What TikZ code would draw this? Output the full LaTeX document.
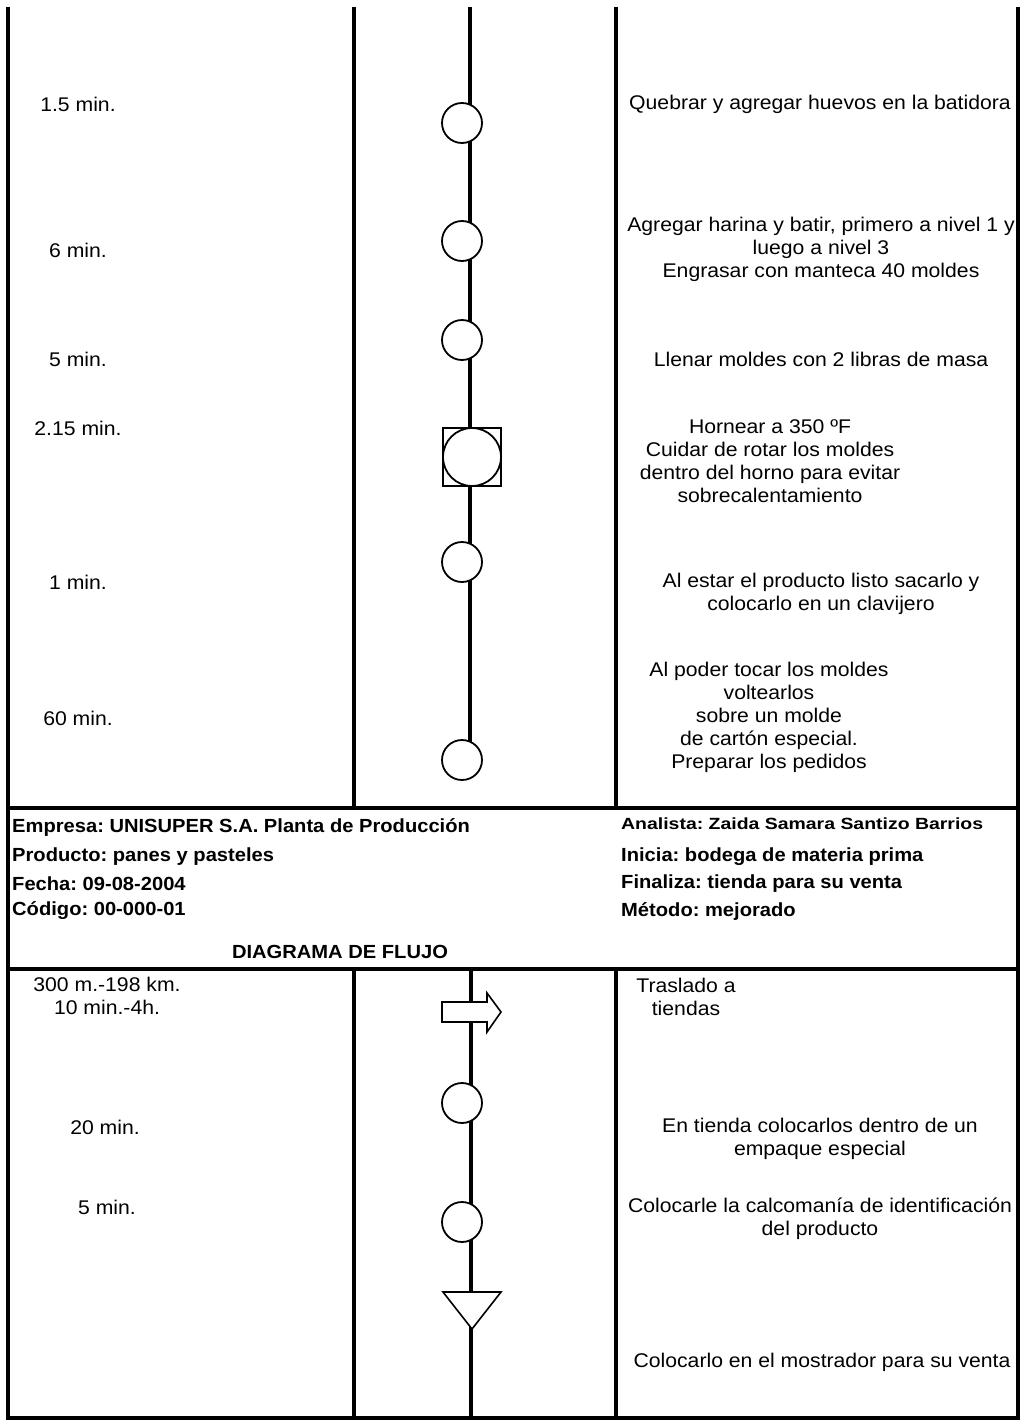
\documentclass[tikz,border=0pt]{standalone}
\usepackage{fontspec}
\setmainfont{Liberation Sans}
\frenchspacing
\newcommand\sx[1]{\scalebox{1.07}[1]{#1}}
\newcommand\bx[1]{\scalebox{1.06}[1]{\bfseries #1}}
\newcommand\ax[1]{\scalebox{1.20}[1]{\bfseries #1}}
\begin{document}
\begin{tikzpicture}[x=1pt,y=-1pt,
  frame/.style={line width=3.6pt},
  flow/.style={line width=3.6pt},
  op/.style={circle,draw,line width=1.8pt,fill=white,minimum size=40pt,inner sep=0pt},
  txt/.style={font=\fontsize{19.8}{23}\selectfont,align=center,inner sep=0pt,anchor=center},
  head/.style={font=\fontsize{19}{22}\selectfont,inner sep=0pt,anchor=west},
  small/.style={font=\fontsize{16.2}{20}\selectfont,inner sep=0pt,anchor=west}]
\useasboundingbox (0,0) rectangle (1024,1426);

% ---------- table frame ----------
\draw[frame] (8,7) -- (8,1418) -- (1018,1418) -- (1018,7);
\draw[frame] (6,808) -- (1020,808);
\draw[frame] (6,969) -- (1020,969);
\foreach \cx in {354,616}{
  \draw[frame] (\cx,7) -- (\cx,808);
  \draw[frame] (\cx,969) -- (\cx,1418);
}

% ---------- upper process line ----------
\coordinate (utop) at (470,7);
\coordinate (uend) at (470,760);
\draw[flow] (utop) -- (uend);
\node[op] (c1) at (462,123) {};
\node[op] (c2) at (462,241) {};
\node[op] (c3) at (462,340) {};
\node[draw,line width=1.4pt,fill=white,minimum size=58pt,inner sep=0pt] (insp) at (472,457) {};
\node[circle,draw,line width=1.8pt,minimum size=58pt,inner sep=0pt] (oper) at (472,457) {};
\node[op] (c5) at (462,562) {};
\node[op] (c6) at (462,760) {};

% ---------- lower process line ----------
\coordinate (ltop) at (471,969);
\coordinate (lend) at (471,1418);
\draw[flow] (ltop) -- (lend);
\draw[line width=1.6pt,fill=white] (442,1002) -- (487,1002) -- (487,993) -- (501,1012)
  -- (487,1032) -- (487,1022) -- (442,1022) -- cycle;
\node[op] (c7) at (462,1103) {};
\node[op] (c8) at (462,1222) {};
\draw[line width=1.6pt,fill=white] (443,1292) -- (501,1292) -- (472,1329) -- cycle;

% ---------- times ----------
\node[txt] (t1) at (78,104) {\sx{1.5 min.}};
\node[txt] (t2) at (78,250) {\sx{6 min.}};
\node[txt] (t3) at (78,359) {\sx{5 min.}};
\node[txt] (t4) at (78,428) {\sx{2.15 min.}};
\node[txt] (t5) at (78,582) {\sx{1 min.}};
\node[txt] (t6) at (78,718) {\sx{60 min.}};
\node[txt] (t7) at (107,996) {\sx{300 m.-198 km.}\\\sx{10 min.-4h.}};
\node[txt] (t8) at (105,1127) {\sx{20 min.}};
\node[txt] (t9) at (107,1207) {\sx{5 min.}};

% ---------- descriptions ----------
\node[txt] (d1) at (820,104) {\sx{Quebrar y agregar huevos en la batidora}};
\node[txt] (d2) at (821,249) {\sx{Agregar harina y batir, primero a nivel 1 y}\\\sx{luego a nivel 3}\\\sx{Engrasar con manteca 40 moldes}};
\node[txt] (d3) at (821,359) {\sx{Llenar moldes con 2 libras de masa}};
\node[txt] (d4) at (770,461) {\sx{Hornear a 350 ºF}\\\sx{Cuidar de rotar los moldes}\\\sx{dentro del horno para evitar}\\\sx{sobrecalentamiento}};
\node[txt] (d5) at (821,594) {\sx{Al estar el producto listo sacarlo y}\\\sx{colocarlo en un clavijero}};
\node[txt] (d6) at (769,717) {\sx{Al poder tocar los moldes}\\\sx{voltearlos}\\\sx{sobre un molde}\\\sx{de cartón especial.}\\\sx{Preparar los pedidos}};
\node[txt] (d7) at (686,997) {\sx{Traslado a}\\\sx{tiendas}};
\node[txt] (d8) at (820,1139) {\sx{En tienda colocarlos dentro de un}\\\sx{empaque especial}};
\node[txt] (d9) at (820,1219) {\sx{Colocarle la calcomanía de identificación}\\\sx{del producto}};
\node[txt] (d10) at (822,1362) {\sx{Colocarlo en el mostrador para su venta}};

% ---------- header ----------
\node[head] (h1) at (12,827) {\bx{Empresa: UNISUPER S.A. Planta de Producción}};
\node[head] (h2) at (12,857) {\bx{Producto: panes y pasteles}};
\node[head] (h3) at (12,884) {\bx{Fecha: 09-08-2004}};
\node[head] (h4) at (12,911) {\bx{Código: 00-000-01}};
\node[head,anchor=center] (h5) at (340,952) {\bx{DIAGRAMA DE FLUJO}};
\node[small] (h6) at (621,824) {\ax{Analista: Zaida Samara Santizo Barrios}};
\node[head] (h7) at (621,857) {\bx{Inicia: bodega de materia prima}};
\node[head] (h8) at (621,884) {\bx{Finaliza: tienda para su venta}};
\node[head] (h9) at (621,911) {\bx{Método: mejorado}};
\end{tikzpicture}
\end{document}
